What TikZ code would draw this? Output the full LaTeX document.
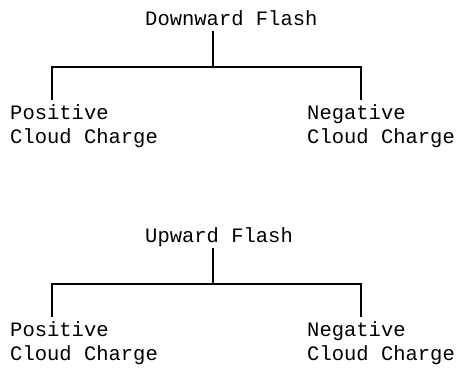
\documentclass[tikz,border=0pt]{standalone}
\usepackage{fontspec}
\setmonofont{Liberation Mono}

\begin{document}
\begin{tikzpicture}[x=1pt, y=-1pt,
    lbl/.style={font=\ttfamily\fontsize{20.5}{24}\selectfont, inner sep=0pt, align=left, anchor=base west},
    tree/.style={line width=1.3pt}]
  \useasboundingbox (0,0) rectangle (457,367);
  % two flash trees, one above the other
  \foreach \o/\n/\t in {0/dn/Downward Flash, 217/up/Upward Flash} {
    \node[lbl] (\n) at (145,25+\o) {\t};
    \node[lbl] (\n-pos) at (10,143+\o) {Positive\\Cloud Charge};
    \node[lbl] (\n-neg) at (307,143+\o) {Negative\\Cloud Charge};
    \coordinate (\n-s) at (213,31+\o);
    \coordinate (\n-j) at (213,67+\o);
    \coordinate (\n-l) at (52,100+\o);
    \coordinate (\n-r) at (361,100+\o);
    \draw[tree] (\n-s) -- (\n-j);
    \draw[tree] (\n-l) -- (\n-l |- \n-j) -- (\n-r |- \n-j) -- (\n-r);
  }
\end{tikzpicture}
\end{document}
